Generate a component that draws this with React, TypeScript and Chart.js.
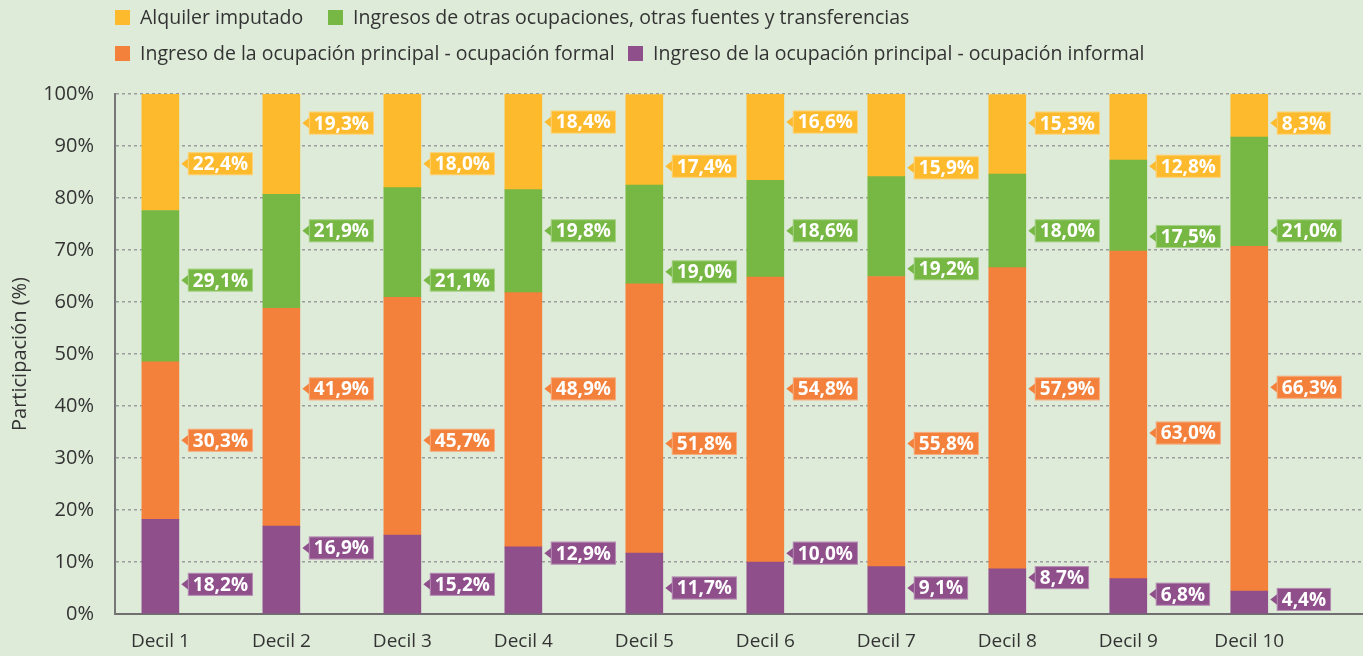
import React, { useEffect, useRef } from "react";
import { Chart, registerables } from "chart.js";

Chart.register(...registerables);

// ---- data ----
const categories = ["Decil 1", "Decil 2", "Decil 3", "Decil 4", "Decil 5", "Decil 6", "Decil 7", "Decil 8", "Decil 9", "Decil 10"];
const informal = [18.2, 16.9, 15.2, 12.9, 11.7, 10.0, 9.1, 8.7, 6.8, 4.4];
const formal = [30.3, 41.9, 45.7, 48.9, 51.8, 54.8, 55.8, 57.9, 63.0, 66.3];
const otros = [29.1, 21.9, 21.1, 19.8, 19.0, 18.6, 19.2, 18.0, 17.5, 21.0];
const alquiler = [22.4, 19.3, 18.0, 18.4, 17.4, 16.6, 15.9, 15.3, 12.8, 8.3];
const yTickValues = [0, 10, 20, 30, 40, 50, 60, 70, 80, 90, 100];

// heights (in axis %) at which each callout label is anchored
const informalLabelAt = [5.7, 12.7, 5.7, 11.7, 5.0, 11.7, 5.0, 7.0, 3.8, 2.8];
const formalLabelAt = [33.4, 43.3, 33.4, 43.3, 32.8, 43.3, 32.8, 43.3, 34.8, 43.6];
const otrosLabelAt = [64.2, 73.7, 64.2, 73.7, 65.8, 73.7, 66.4, 73.7, 72.6, 73.7];
const alquilerLabelAt = [86.6, 94.4, 86.6, 94.6, 86.1, 94.6, 85.8, 94.4, 86.1, 94.4];

const seriesNames = {
  alquiler: "Alquiler imputado",
  otros: "Ingresos de otras ocupaciones, otras fuentes y transferencias",
  formal: "Ingreso de la ocupación principal - ocupación formal",
  informal: "Ingreso de la ocupación principal - ocupación informal",
};

const COLORS = {
  alquiler: "#FDBA2C",
  otros: "#76B843",
  formal: "#F3813B",
  informal: "#8E4F8B",
};

const BG = "#DEEBD9";
const FONT = '"Open Sans", "Noto Sans", sans-serif';
const TEXT = "#333333";

const labelPlugin = {
  id: "calloutLabels",
  afterDatasetsDraw(chart: any) {
    const ctx = chart.ctx;
    const yScale = chart.scales.y;
    ctx.save();
    ctx.font = `bold 19px ${FONT}`;
    chart.data.datasets.forEach((ds: any, d: number) => {
      const meta = chart.getDatasetMeta(d);
      meta.data.forEach((el: any, j: number) => {
        const { x, width } = el.getProps(["x", "width"], true);
        const right = x + width / 2;
        const y = yScale.getPixelForValue(ds.labelAt[j]);
        const text = ds.data[j].y.toFixed(1).replace(".", ",") + "%";
        const tw = ctx.measureText(text).width;
        const boxX = right + 9;
        const boxW = tw + 10;
        const boxH = 23;
        ctx.fillStyle = ds.backgroundColor;
        ctx.beginPath();
        ctx.moveTo(right + 2.5, y);
        ctx.lineTo(boxX + 0.5, y - 5.5);
        ctx.lineTo(boxX + 0.5, y + 5.5);
        ctx.closePath();
        ctx.fill();
        ctx.fillRect(boxX, y - boxH / 2, boxW, boxH);
        ctx.strokeStyle = "rgba(255,255,255,0.35)";
        ctx.lineWidth = 1;
        ctx.strokeRect(boxX + 0.5, y - boxH / 2 + 0.5, boxW - 1, boxH - 1);
        ctx.fillStyle = "#FFFFFF";
        ctx.textAlign = "left";
        ctx.textBaseline = "middle";
        ctx.fillText(text, boxX + 5, y + 1);
      });
    });
    ctx.restore();
  },
};

function toPoints(values: number[]) {
  return values.map((v, i) => ({ x: i + 1, y: v }));
}

export default function App() {
  const ref = useRef<HTMLCanvasElement>(null);

  useEffect(() => {
    document.body.style.margin = "0";
    const chart = new Chart(ref.current as HTMLCanvasElement, {
      type: "bar",
      data: {
        datasets: [
          { label: seriesNames.informal, data: toPoints(informal), backgroundColor: COLORS.informal, labelAt: informalLabelAt } as any,
          { label: seriesNames.formal, data: toPoints(formal), backgroundColor: COLORS.formal, labelAt: formalLabelAt } as any,
          { label: seriesNames.otros, data: toPoints(otros), backgroundColor: COLORS.otros, labelAt: otrosLabelAt } as any,
          { label: seriesNames.alquiler, data: toPoints(alquiler), backgroundColor: COLORS.alquiler, labelAt: alquilerLabelAt } as any,
        ],
      },
      options: {
        responsive: false,
        animation: false,
        layout: { padding: { top: 94, left: 0, right: 0, bottom: 0 } },
        datasets: { bar: { barThickness: 37, borderWidth: 0 } } as any,
        plugins: {
          legend: { display: false },
          tooltip: { enabled: false },
        },
        scales: {
          x: {
            type: "linear",
            stacked: true,
            offset: false,
            min: 0.625,
            max: 10.94,
            afterBuildTicks: (s: any) => {
              s.ticks = categories.map((_, i) => ({ value: i + 1 }));
            },
            afterFit: (s: any) => {
              s.height = 42;
            },
            grid: { display: false, drawTicks: false, offset: false },
            border: { display: true, color: "#6f6f6f", width: 2 },
            ticks: {
              autoSkip: false,
              maxRotation: 0,
              padding: 16,
              color: TEXT,
              font: { family: FONT, size: 19 },
              callback: (v: any) => categories[Math.round(Number(v)) - 1] ?? "",
            },
          },
          y: {
            stacked: true,
            min: 0,
            max: 100,
            afterBuildTicks: (s: any) => {
              s.ticks = yTickValues.map((v) => ({ value: v }));
            },
            afterFit: (s: any) => {
              s.width = 115;
            },
            grid: {
              drawTicks: false,
              color: (c: any) => (c.tick && c.tick.value === 0 ? "rgba(0,0,0,0)" : "#9c9c9c"),
              lineWidth: 1.5,
            },
            border: { display: true, color: "#777777", width: 2, dash: [3, 3] },
            ticks: {
              padding: 21,
              color: TEXT,
              font: { family: FONT, size: 20 },
              callback: (v: any) => `${v}%`,
            },
            title: {
              display: true,
              text: "Participación (%)",
              color: TEXT,
              font: { family: FONT, size: 20 },
              padding: { top: 8, bottom: 0 },
            },
          },
        },
      },
      plugins: [labelPlugin],
    });
    return () => chart.destroy();
  }, []);

  const legendItems = [
    { key: "alquiler", left: 115, top: 5 },
    { key: "otros", left: 328, top: 5 },
    { key: "formal", left: 115, top: 41 },
    { key: "informal", left: 628, top: 41 },
  ] as const;

  return (
    <div style={{ position: "relative", width: 1363, height: 656, background: BG, overflow: "hidden", fontFamily: FONT }}>
      <canvas ref={ref} width={1363} height={656} style={{ position: "absolute", left: 0, top: 0 }} />
      {legendItems.map((it) => (
        <div
          key={it.key}
          style={{
            position: "absolute",
            left: it.left,
            top: it.top,
            height: 24,
            display: "flex",
            alignItems: "center",
            whiteSpace: "nowrap",
            fontSize: 19.5,
            lineHeight: "24px",
            color: TEXT,
          }}
        >
          <span style={{ display: "inline-block", width: 15, height: 15, background: (COLORS as any)[it.key], marginRight: 10 }} />
          <span>{(seriesNames as any)[it.key]}</span>
        </div>
      ))}
    </div>
  );
}
